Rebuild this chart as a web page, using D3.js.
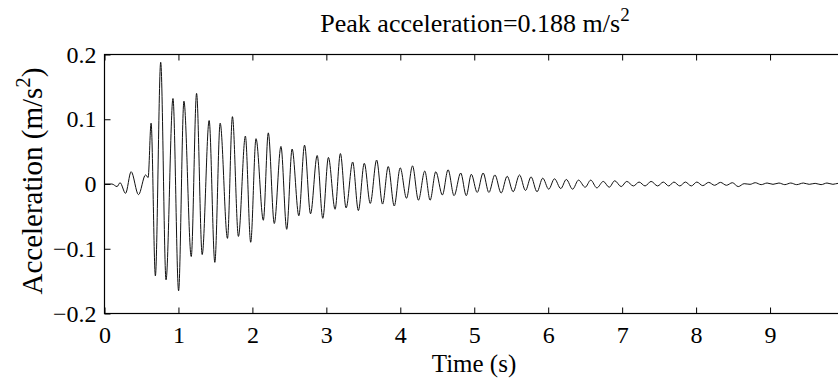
<!DOCTYPE html>
<html>
<head>
<meta charset="utf-8">
<script src="https://cdn.jsdelivr.net/npm/d3@7"></script>
<style>
  body { margin: 0; background: #fff; }
</style>
</head>
<body>
<script>
// turning points of the record (time in s, acceleration in m/s^2)
let times = [0, 0.10, 0.17, 0.21, 0.285, 0.36, 0.46, 0.555, 0.59, 0.63,
  0.688, 0.76, 0.832, 0.926, 1.002, 1.074, 1.173, 1.245, 1.321, 1.415,
  1.492, 1.564, 1.663, 1.73, 1.811, 1.905, 1.977, 2.049, 2.148, 2.215,
  2.296, 2.386, 2.464, 2.537, 2.628, 2.705, 2.786, 2.876, 2.952, 3.028,
  3.118, 3.19, 3.267, 3.356, 3.433, 3.513, 3.594, 3.68, 3.76, 3.837,
  3.918, 3.999, 4.084, 4.165, 4.245, 4.331, 4.403, 4.48, 4.569, 4.646,
  4.727, 4.817, 4.892, 4.96, 5.04, 5.12, 5.198, 5.279, 5.364, 5.445,
  5.526, 5.612, 5.693, 5.768, 5.849, 5.926, 6.007, 6.085, 6.17, 6.245,
  6.33, 6.41, 6.5, 6.575, 6.658, 6.745, 6.825, 6.9, 6.987, 7.062,
  7.152, 7.229, 7.31, 7.391, 7.48, 7.556, 7.63, 7.70, 7.78, 7.855,
  7.935, 8.01, 8.09, 8.17, 8.25, 8.33, 8.41, 8.49, 8.57, 8.65,
  8.73, 8.8, 8.88, 8.96, 9.04, 9.12, 9.2, 9.28, 9.36, 9.45,
  9.53, 9.61, 9.69, 9.77, 9.85, 9.92, 10.0];
let accel = [0, 0, -0.004, 0.002, -0.0144, 0.019, -0.0165, 0.014, 0.010, 0.094,
  -0.142, 0.188, -0.148, 0.132, -0.165, 0.128, -0.112, 0.140, -0.109, 0.098,
  -0.121, 0.094, -0.084, 0.104, -0.081, 0.074, -0.090, 0.070, -0.056, 0.079,
  -0.061, 0.058, -0.070, 0.054, -0.049, 0.060, -0.046, 0.044, -0.053, 0.041,
  -0.039, 0.047, -0.037, 0.034, -0.041, 0.032, -0.030, 0.037, -0.031, 0.027,
  -0.034, 0.025, -0.022, 0.028, -0.025, 0.020, -0.025, 0.019, -0.017, 0.022,
  -0.018, 0.017, -0.018, 0.015, -0.013, 0.017, -0.013, 0.014, -0.014, 0.012,
  -0.012, 0.014, -0.010, 0.011, -0.012, 0.009, -0.008, 0.008, -0.007, 0.007,
  -0.008, 0.006, -0.005, 0.006, -0.006, 0.004, -0.005, 0.005, -0.004, 0.004,
  -0.003, 0.003, -0.003, 0.004, -0.003, 0.003, -0.003, 0.003, -0.003, 0.003,
  -0.003, 0.003, -0.0025, 0.0025, -0.002, 0.0025, -0.002, 0.002, -0.004, 0.0005,
  -0.0005, 0.002, -0.001, 0.0015, -0.0005, 0.0015, -0.001, 0.0015, -0.001, 0.0015,
  -0.0005, 0.001, -0.001, 0.0015, -0.0005, 0.001, 0];

let xTicks = [0, 1, 2, 3, 4, 5, 6, 7, 8, 9];
let yTicks = [-0.2, -0.1, 0, 0.1, 0.2];

let width = 838;
let height = 380;
let plotLeft = 104.5, plotRight = 844, plotTop = 54.5, plotBottom = 313.5;
let font = "'Liberation Serif', 'Times New Roman', Times, serif";

let x = d3.scaleLinear().domain([0, 10]).range([plotLeft, plotRight]);
let y = d3.scaleLinear().domain([-0.2, 0.2]).range([plotBottom, plotTop]);

let svg = d3.select("body").append("svg").attr("width", width).attr("height", height);

let fmtY = (d) => d === 0 ? "0" : d3.format(".1f")(d).replace("-", "\u2212");

// axes, ticks pointing inwards on every side
svg.append("g").attr("transform", `translate(0,${plotBottom})`)
  .call(d3.axisBottom(x).tickValues(xTicks).tickSizeInner(-6).tickSizeOuter(0).tickPadding(12).tickFormat(d3.format("d")))
  .call(g => g.select(".domain").remove());
svg.append("g").attr("transform", `translate(0,${plotTop})`)
  .call(d3.axisTop(x).tickValues(xTicks).tickSizeInner(-6).tickSizeOuter(0).tickFormat(""))
  .call(g => g.select(".domain").remove());
svg.append("g").attr("transform", `translate(${plotLeft},0)`)
  .call(d3.axisLeft(y).tickValues(yTicks).tickSizeInner(-6).tickSizeOuter(0).tickPadding(8).tickFormat(fmtY))
  .call(g => g.select(".domain").remove());
svg.append("g").attr("transform", `translate(${plotRight},0)`)
  .call(d3.axisRight(y).tickValues(yTicks).tickSizeInner(-6).tickSizeOuter(0).tickFormat(""))
  .call(g => g.select(".domain").remove());

svg.selectAll(".tick text").style("font-family", font).style("font-size", "24px").attr("fill", "#000");
svg.selectAll(".tick line").attr("stroke", "#000");

svg.append("rect")
  .attr("x", plotLeft).attr("y", plotTop)
  .attr("width", plotRight - plotLeft).attr("height", plotBottom - plotTop)
  .attr("fill", "none").attr("stroke", "#000").attr("stroke-width", 1.2);

let points = times.map((t, i) => [t, accel[i]]);
let line = d3.line().x((d) => x(d[0])).y((d) => y(d[1])).curve(d3.curveMonotoneX);

svg.append("path").datum(points)
  .attr("d", line)
  .attr("fill", "none")
  .attr("stroke", "#111")
  .attr("stroke-width", 1);

// title
let title = svg.append("text").attr("x", 475).attr("y", 32).attr("text-anchor", "middle")
  .style("font-family", font).style("font-size", "26px");
title.append("tspan").text("Peak acceleration=0.188 m/s");
title.append("tspan").attr("dy", -11).style("font-size", "19px").text("2");

// x label
svg.append("text").attr("x", 474).attr("y", 372).attr("text-anchor", "middle")
  .style("font-family", font).style("font-size", "25px").text("Time (s)");

// y label
let ylab = svg.append("text").attr("transform", "translate(42,181) rotate(-90)").attr("text-anchor", "middle")
  .style("font-family", font).style("font-size", "29px");
ylab.append("tspan").text("Acceleration (m/s");
ylab.append("tspan").attr("dy", -12).style("font-size", "21px").text("2");
ylab.append("tspan").attr("dy", 12).text(")");
</script>
</body>
</html>
